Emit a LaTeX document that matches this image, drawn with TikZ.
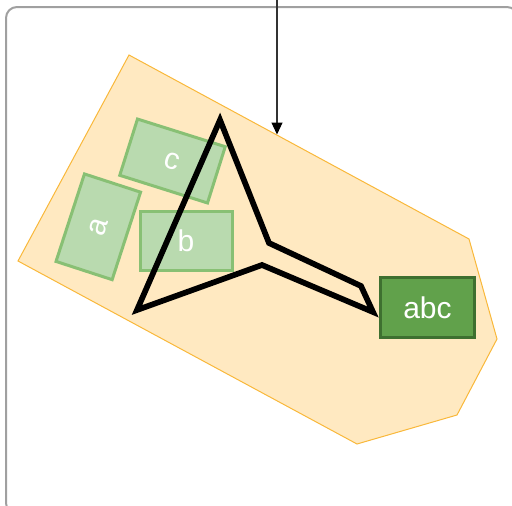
\documentclass[tikz,border=0pt]{standalone}
\usepackage{fontspec}
\setmainfont{Liberation Sans}
\usetikzlibrary{arrows.meta}
\definecolor{framegray}{HTML}{A0A0A0}
\definecolor{hullfill}{HTML}{FFE9C1}
\definecolor{hullline}{HTML}{F9B83A}
\definecolor{lgfill}{HTML}{B9DAAF}
\definecolor{lgline}{HTML}{88C074}
\definecolor{dgfill}{HTML}{61A14B}
\definecolor{dgline}{HTML}{3E7030}
\begin{document}
\begin{tikzpicture}[x=1pt,y=-1pt,
  boxbase/.style={line width=3pt,minimum width=92pt,minimum height=59pt,inner sep=0pt,
    text=white,font=\fontsize{30}{30}\selectfont},
  lightbox/.style={boxbase,draw=lgline,fill=lgfill},
  darkbox/.style={boxbase,draw=dgline,fill=dgfill,minimum width=94pt,minimum height=60pt},
  hull/.style={draw=hullline,fill=hullfill,line width=1pt,line join=miter},
  linkshape/.style={draw=black,line width=5.7pt,line join=miter,miter limit=10},
  arrowline/.style={draw=black!80,line width=1.2pt,-{Triangle[width=11pt,length=12pt,black]}}
]
\useasboundingbox (0,0) rectangle (512,506);
\draw[framegray,line width=2pt,rounded corners=11pt] (6,7) rectangle (518,514);

% hull polygon
\coordinate (h1) at (129,55);
\coordinate (h2) at (469,239);
\coordinate (h3) at (497,339);
\coordinate (h4) at (457,415);
\coordinate (h5) at (357,444);
\coordinate (h6) at (18,261);
\draw[hull] (h1) -- (h2) -- (h3) -- (h4) -- (h5) -- (h6) -- cycle;

% boxes
\node[lightbox,rotate=-17.5] (c) at (172.5,161) {c};
\node[lightbox,rotate=72] (a) at (98.3,226.8) {a};
\node[lightbox] (b) at (186,241) {b};
\node[darkbox] (abc) at (427.5,307.5) {abc};

% black link shape
\coordinate (k1) at (220,120);
\coordinate (k2) at (269,243);
\coordinate (k3) at (361,286);
\coordinate (k4) at (373,312);
\coordinate (k5) at (262,265);
\coordinate (k6) at (137,310);
\draw[linkshape] (k1) -- (k2) -- (k3) -- (k4) -- (k5) -- (k6) -- cycle;

% arrow
\coordinate (src) at (277,-5);
\coordinate (hit) at (277,134.5);
\draw[arrowline] (src) -- (hit);
\end{tikzpicture}
\end{document}
